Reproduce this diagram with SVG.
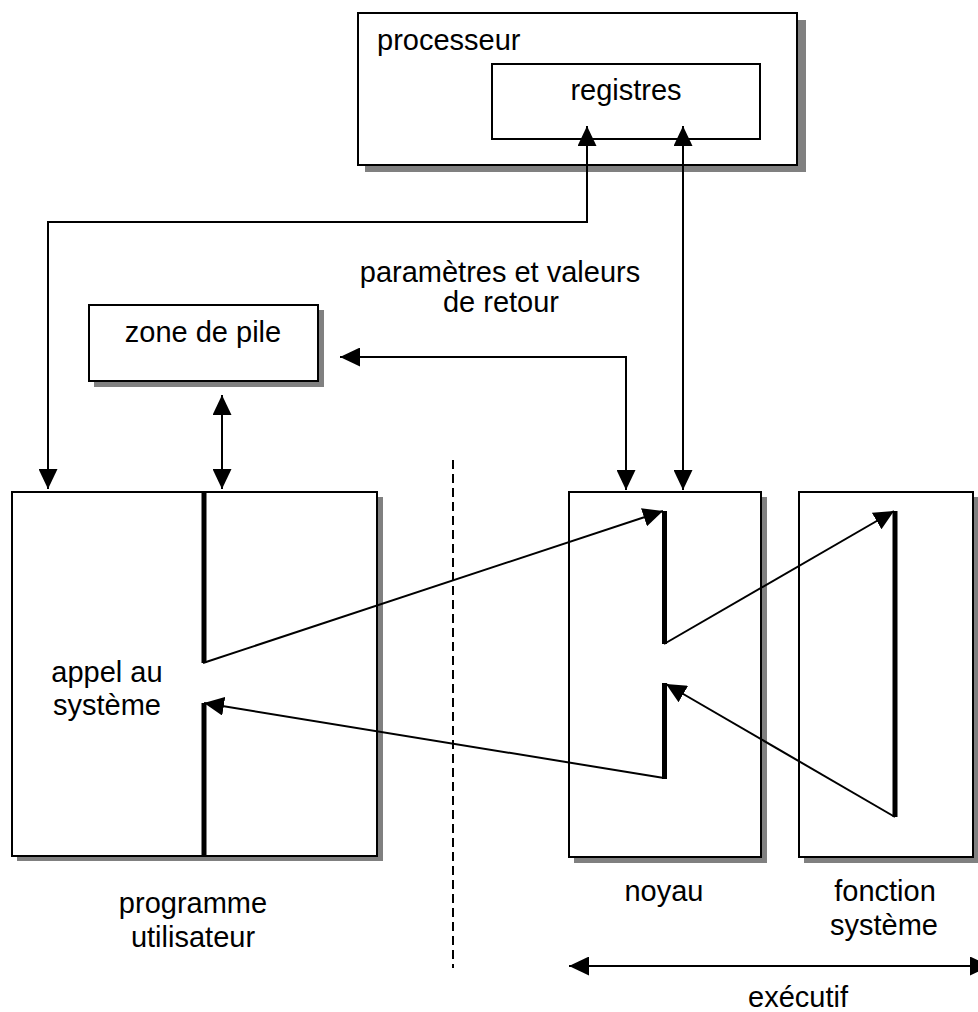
<svg xmlns="http://www.w3.org/2000/svg" width="978" height="1012" viewBox="0 0 978 1012">
  <style>
    .box { fill: #ffffff; stroke: #000000; stroke-width: 2; }
    .shadow { fill: #808080; stroke: none; }
    .bar { stroke: #000000; stroke-width: 5; fill: none; }
    .wire { stroke: #000000; stroke-width: 2; fill: none; }
    .dash { stroke: #000000; stroke-width: 2; stroke-dasharray: 9 5; fill: none; }
    text { font-family: "Liberation Sans", Arial, Helvetica, sans-serif; font-size: 29px; fill: #000000; }
    .mid { text-anchor: middle; }
  </style>
  <defs>
    <marker id="arrow" markerUnits="userSpaceOnUse" markerWidth="20" markerHeight="19" refX="20" refY="9.5" orient="auto-start-reverse" viewBox="0 0 20 19">
      <path d="M0,0 L20,9.5 L0,19 Z" fill="#000000"/>
    </marker>
  </defs>

  <rect width="978" height="1012" fill="#ffffff"/>

  <!-- processor with its register block -->
  <g id="processeur">
    <rect class="shadow" x="365" y="20" width="441" height="152"/>
    <rect class="box" x="358" y="13" width="439" height="152"/>
    <text x="377" y="50">processeur</text>
  </g>
  <g id="registres">
    <rect class="box" x="492" y="64" width="268" height="75"/>
    <text class="mid" x="626" y="100">registres</text>
  </g>

  <!-- stack area -->
  <g id="zone-de-pile">
    <rect class="shadow" x="94" y="310" width="230" height="77"/>
    <rect class="box" x="89" y="305" width="229" height="76"/>
    <text class="mid" x="203" y="342">zone de pile</text>
  </g>

  <!-- user program -->
  <g id="programme-utilisateur">
    <rect class="shadow" x="17" y="497" width="366" height="364"/>
    <rect class="box" x="12" y="492" width="365" height="364"/>
    <text class="mid" x="107" y="682">appel au</text>
    <text class="mid" x="107" y="715">système</text>
    <path class="bar" d="M204,492 V663 M204,703 V856"/>
    <text class="mid" x="193" y="913">programme</text>
    <text class="mid" x="193" y="947">utilisateur</text>
  </g>

  <!-- kernel -->
  <g id="noyau">
    <rect class="shadow" x="574" y="497" width="193" height="366"/>
    <rect class="box" x="569" y="492" width="192" height="365"/>
    <path class="bar" d="M664.5,511 V644 M664.5,683 V779"/>
    <text class="mid" x="664" y="901">noyau</text>
  </g>

  <!-- system function -->
  <g id="fonction-systeme">
    <rect class="shadow" x="804" y="497" width="180" height="366"/>
    <rect class="box" x="799" y="492" width="174" height="365"/>
    <path class="bar" d="M895,511 V817"/>
    <text class="mid" x="885" y="901">fonction</text>
    <text class="mid" x="884" y="935">système</text>
  </g>

  <!-- labels outside nodes -->
  <text class="mid" x="500" y="282">paramètres et valeurs</text>
  <text class="mid" x="501" y="312">de retour</text>
  <text class="mid" x="798" y="1007">exécutif</text>

  <!-- connectors -->
  <g id="connecteurs">
    <path class="wire" d="M587,126 V222 H48 V489" marker-start="url(#arrow)" marker-end="url(#arrow)"/>
    <path class="wire" d="M683,126 V490" marker-start="url(#arrow)" marker-end="url(#arrow)"/>
    <path class="wire" d="M340,357 H626 V490" marker-start="url(#arrow)" marker-end="url(#arrow)"/>
    <path class="wire" d="M222,395 V489" marker-start="url(#arrow)" marker-end="url(#arrow)"/>
    <path class="wire" d="M203,663 L663,511" marker-end="url(#arrow)"/>
    <path class="wire" d="M664,644 L894,511" marker-end="url(#arrow)"/>
    <path class="wire" d="M895,817 L666,684" marker-end="url(#arrow)"/>
    <path class="wire" d="M664,778 L204,703" marker-end="url(#arrow)"/>
    <path class="dash" d="M453,460 V968"/>
    <path class="wire" d="M569,966 H990" marker-start="url(#arrow)" marker-end="url(#arrow)"/>
  </g>
</svg>
